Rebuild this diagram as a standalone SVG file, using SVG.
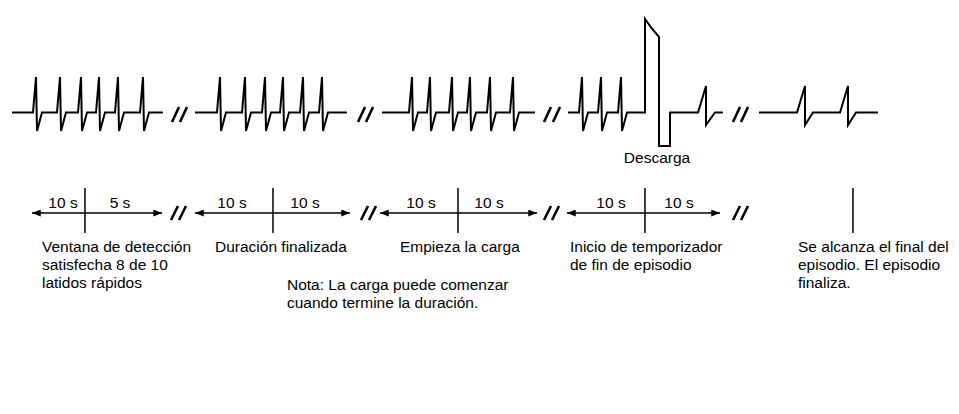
<svg xmlns="http://www.w3.org/2000/svg" width="959" height="414" viewBox="0 0 959 414">
<style>
.ecg{fill:none;stroke:#000;stroke-width:2;stroke-linejoin:miter}
.brk{stroke:#000;stroke-width:2.6;stroke-linecap:butt}
.tl{stroke:#000;stroke-width:1.5;fill:none}
.t{font-family:"Liberation Sans",Arial,sans-serif;font-size:15.5px;fill:#000}
.c{text-anchor:middle}
</style>
<defs>
<marker id="ah" viewBox="0 0 10 8" refX="10" refY="4" markerWidth="9" markerHeight="7" orient="auto-start-reverse" markerUnits="userSpaceOnUse"><path d="M0,0 L10,4 L0,8 z" fill="#000"/></marker>
</defs>
<rect width="959" height="414" fill="#fff"/>
<g id="ecg-trace">
<path class="ecg" d="M12,112.5 L33,112.5 L36,77 L37,131 L42,112.5 L57,112.5 L60,77 L61,131 L66,112.5 L78,112.5 L81,77 L82,131 L87,112.5 L96,112.5 L99,77 L100,131 L105,112.5 L115,112.5 L118,77 L119,131 L124,112.5 L140,112.5 L143,77 L144,131 L149,112.5 L163,112.5"/>
<path class="ecg" d="M195,112.5 L217,112.5 L220,77 L221,131 L226,112.5 L242,112.5 L245,77 L246,131 L251,112.5 L262,112.5 L265,77 L266,131 L271,112.5 L280,112.5 L283,77 L284,131 L289,112.5 L300,112.5 L303,77 L304,131 L309,112.5 L319,112.5 L322,77 L323,131 L328,112.5 L347,112.5"/>
<path class="ecg" d="M382,112.5 L409,112.5 L412,77 L413,131 L418,112.5 L427,112.5 L430,77 L431,131 L436,112.5 L449,112.5 L452,77 L453,131 L458,112.5 L467,112.5 L470,77 L471,131 L476,112.5 L487,112.5 L490,77 L491,131 L496,112.5 L510,112.5 L513,77 L514,131 L519,112.5 L535,112.5"/>
<path class="ecg" d="M568,112.5 L579,112.5 L582,77 L583,131 L588,112.5 L598,112.5 L601,77 L602,131 L607,112.5 L618,112.5 L621,77 L622,131 L627,112.5 L645,112.5 L645,19 Q651,28 659,37 L659,146 L670,146 L670,112.5 L698,112.5 L706,86 L706,125 L715,112.5 L723,112.5"/>
<path class="ecg" d="M759,112.5 L797,112.5 L805,86 L805,125 L813,112.5 L840,112.5 L848,86 L848,125 L856,112.5 L878,112.5"/>
</g>
<g id="ecg-breaks">
<path class="brk" d="M172,122 L179,107 M180,122 L187,107"/>
<path class="brk" d="M358,122 L365,107 M366,122 L373,107"/>
<path class="brk" d="M544,122 L551,107 M553,122 L560,107"/>
<path class="brk" d="M733,122 L740,107 M741,122 L748,107"/>
</g>
<g id="shock-label"><text class="t c" x="657" y="163">Descarga</text></g>
<g id="connectors">
<line class="tl" x1="32" y1="213" x2="162" y2="213" marker-start="url(#ah)" marker-end="url(#ah)"/>
<line class="tl" x1="195" y1="213" x2="350" y2="213" marker-start="url(#ah)" marker-end="url(#ah)"/>
<line class="tl" x1="380" y1="213" x2="537" y2="213" marker-start="url(#ah)" marker-end="url(#ah)"/>
<line class="tl" x1="567" y1="213" x2="720" y2="213" marker-start="url(#ah)" marker-end="url(#ah)"/>
<path class="brk" d="M171,220 L178,206 M179,220 L186,206"/>
<path class="brk" d="M361,220 L368,206 M369,220 L376,206"/>
<path class="brk" d="M544,220 L551,206 M552,220 L559,206"/>
<path class="brk" d="M733,220 L740,206 M741,220 L748,206"/>
</g>
<g id="ev-detection">
<line class="tl" x1="85" y1="188" x2="85" y2="233"/>
<text class="t c" x="63" y="208">10 s</text>
<text class="t c" x="120" y="208">5 s</text>
<text class="t" x="42" y="252">Ventana de detección</text>
<text class="t" x="42" y="270">satisfecha 8 de 10</text>
<text class="t" x="42" y="288">latidos rápidos</text>
</g>
<g id="ev-duration">
<line class="tl" x1="273" y1="188" x2="273" y2="233"/>
<text class="t c" x="232" y="208">10 s</text>
<text class="t c" x="305" y="208">10 s</text>
<text class="t" x="215" y="252">Duración finalizada</text>
</g>
<g id="note">
<text class="t" x="287" y="290">Nota: La carga puede comenzar</text>
<text class="t" x="287" y="308">cuando termine la duración.</text>
</g>
<g id="ev-charge">
<line class="tl" x1="458" y1="188" x2="458" y2="233"/>
<text class="t c" x="421" y="208">10 s</text>
<text class="t c" x="489" y="208">10 s</text>
<text class="t" x="400" y="252">Empieza la carga</text>
</g>
<g id="ev-timer">
<line class="tl" x1="645" y1="188" x2="645" y2="233"/>
<text class="t c" x="611" y="208">10 s</text>
<text class="t c" x="679" y="208">10 s</text>
<text class="t" x="570" y="252">Inicio de temporizador</text>
<text class="t" x="570" y="270">de fin de episodio</text>
</g>
<g id="ev-end">
<line class="tl" x1="853" y1="188" x2="853" y2="233"/>
<text class="t" x="798" y="252">Se alcanza el final del</text>
<text class="t" x="798" y="270">episodio. El episodio</text>
<text class="t" x="798" y="288">finaliza.</text>
</g>
</svg>
